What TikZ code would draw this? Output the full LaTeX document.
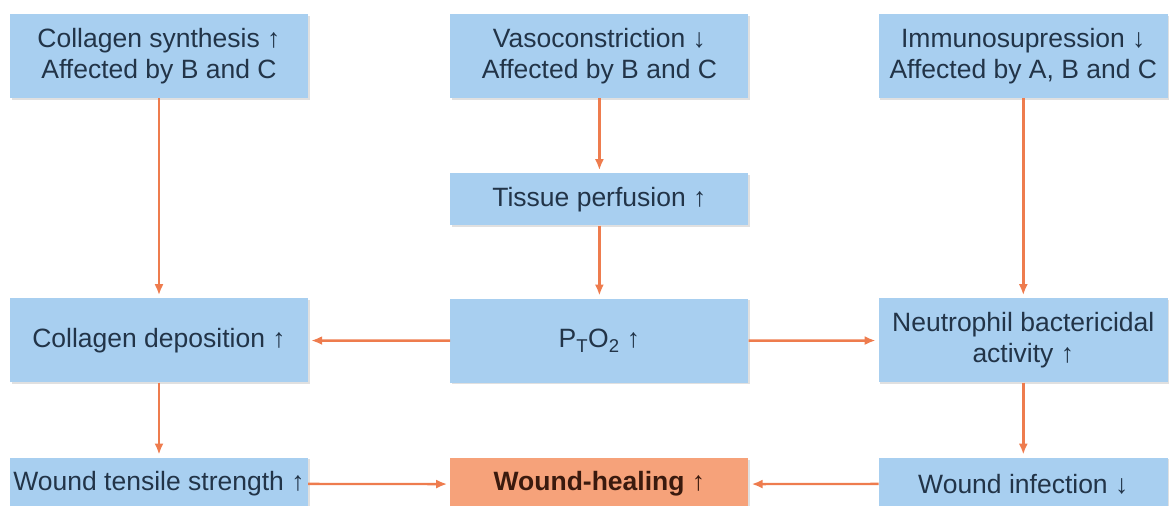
\documentclass[tikz,border=0pt]{standalone}
\usepackage{fontspec}
\setmainfont{Liberation Sans}
\usepackage{tikz}
\usetikzlibrary{arrows.meta,positioning,shadows}
\definecolor{boxblue}{RGB}{168,207,240}
\definecolor{boxorange}{RGB}{246,162,122}
\definecolor{linkorange}{RGB}{238,124,78}
\definecolor{textnavy}{RGB}{34,52,72}
\definecolor{textbrown}{RGB}{58,26,14}
\tikzset{
  flowbox/.style={rectangle, fill=boxblue, text=textnavy, align=center, inner sep=0pt, minimum width=298pt, minimum height=84pt, font=\fontsize{26.5}{31}\selectfont, drop shadow={shadow xshift=1.5pt, shadow yshift=-1.5pt, fill=black, opacity=0.12}},
  flowthin/.style={flowbox, minimum height=52pt},
  flowlow/.style={flowbox, minimum height=52pt},
  flowgoal/.style={flowlow, fill=boxorange, text=textbrown, font=\fontsize{26.5}{31}\selectfont\bfseries},
  flowarrow/.style={-{Latex[length=11pt,width=9pt]}, line width=2.4pt, draw=linkorange, shorten >=3pt}
}

\begin{document}
\begin{tikzpicture}[x=1pt, y=-1pt]
\useasboundingbox (0,0) rectangle (1173,506);
\clip (0,0) rectangle (1173,506);
\node[flowbox] (colsyn) at (159,56) {Collagen synthesis ↑\\Affected by B and C};
\node[flowbox, right=142pt of colsyn] (vaso) {Vasoconstriction ↓\\Affected by B and C};
\node[flowbox, minimum width=289pt, right=130pt of vaso] (immuno) {Immunosupression ↓\\Affected by A, B and C};
\node[flowthin, below=75pt of vaso] (perf) {Tissue perfusion ↑};
\node[flowbox, below=200pt of colsyn] (coldep) {Collagen deposition ↑};
\node[flowbox, below=73pt of perf] (pto) {P\textsubscript{T}O\textsubscript{2} ↑};
\node[flowbox, minimum width=289pt, below=200pt of immuno] (neutro) {Neutrophil bactericidal\\activity ↑};
\node[flowlow, below=75pt of coldep] (tensile) {Wound tensile strength ↑};
\node[flowgoal, below=75pt of pto] (heal) {Wound-healing ↑};
\node[flowlow, minimum width=289pt, below=75pt of neutro] (infect) {Wound infection ↓};
\draw[flowarrow] (colsyn) -- (coldep);
\draw[flowarrow] (vaso) -- (perf);
\draw[flowarrow] (perf) -- (pto);
\draw[flowarrow] (immuno) -- (neutro);
\draw[flowarrow] (pto) -- (coldep);
\draw[flowarrow] (pto) -- (neutro);
\draw[flowarrow] (coldep) -- (tensile);
\draw[flowarrow] (neutro) -- (infect);
\draw[flowarrow] (tensile) -- (heal);
\draw[flowarrow] (infect) -- (heal);
\end{tikzpicture}
\end{document}
